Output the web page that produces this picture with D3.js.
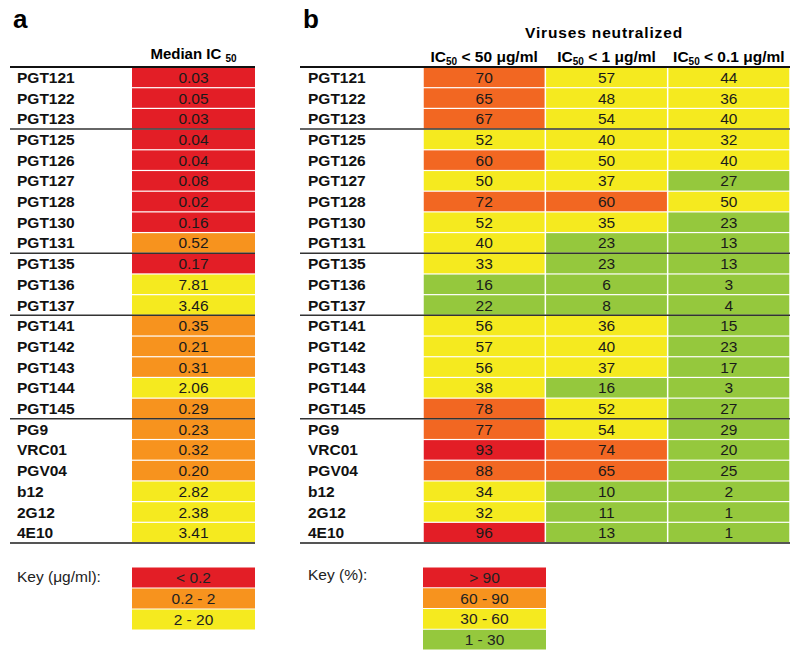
<!DOCTYPE html>
<html>
<head>
<meta charset="utf-8">
<script src="https://cdn.jsdelivr.net/npm/d3@7/dist/d3.min.js"></script>
<style>
  html, body { margin: 0; padding: 0; background: #fff; }
  text { font-family: "Liberation Sans", Arial, sans-serif; }
</style>
</head>
<body>
<svg id="chart" width="800" height="660"></svg>
<script>
// ---------- DATA ----------
const antibodies = ["PGT121","PGT122","PGT123","PGT125","PGT126","PGT127","PGT128","PGT130","PGT131",
  "PGT135","PGT136","PGT137","PGT141","PGT142","PGT143","PGT144","PGT145",
  "PG9","VRC01","PGV04","b12","2G12","4E10"];
const groupBreaks = [3, 9, 12, 17]; // row index where a new group starts
const medianIC50 = [0.03,0.05,0.03,0.04,0.04,0.08,0.02,0.16,0.52,0.17,7.81,3.46,0.35,0.21,0.31,2.06,0.29,0.23,0.32,0.20,2.82,2.38,3.41];
const neut50  = [70,65,67,52,60,50,72,52,40,33,16,22,56,57,56,38,78,77,93,88,34,32,96];
const neut1   = [57,48,54,40,50,37,60,35,23,23,6,8,36,40,37,16,52,54,74,65,10,11,13];
const neut01  = [44,36,40,32,40,27,50,23,13,13,3,4,15,23,17,3,27,29,20,25,2,1,1];
const colHeads = ["50", "1", "0.1"];
const keyA = ["< 0.2", "0.2 - 2", "2 - 20"];
const keyB = ["> 90", "60 - 90", "30 - 60", "1 - 30"];

// ---------- COLOURS ----------
const RED = "#E31E26", ORANGE_A = "#F7931E", ORANGE_B = "#F26722", YELLOW = "#F5EA1F", GREEN = "#95C83D";
const colorA = d3.scaleThreshold().domain([0.2, 2]).range([RED, ORANGE_A, YELLOW]);
const colorB = d3.scaleThreshold().domain([30, 60, 91]).range([GREEN, YELLOW, ORANGE_B, RED]);
const keyAColors = [RED, ORANGE_A, YELLOW];
const keyBColors = [RED, ORANGE_A, YELLOW, GREEN];

const svg = d3.select("#chart");
const y = d3.scaleBand().domain(d3.range(antibodies.length)).range([67, 543]);
const bw = y.bandwidth();
const fs = "15.5px";

// ---------- PANEL A ----------
const xa = d3.scaleBand().domain(["m"]).range([132, 255]);
const gA = svg.append("g");
gA.append("text").attr("x", 13).attr("y", 28).attr("font-size", "26px").attr("font-weight", "bold").text("a");
const hA = gA.append("text").attr("x", xa("m") + xa.bandwidth()/2).attr("y", 59)
  .attr("text-anchor", "middle").attr("font-size", "15px").attr("font-weight", "bold");
hA.append("tspan").text("Median IC ");
hA.append("tspan").attr("font-size", "10px").attr("dy", 3).text("50");

gA.selectAll("rect.cell").data(medianIC50).join("rect").attr("class", "cell")
  .attr("x", xa("m")).attr("width", xa.bandwidth())
  .attr("y", (d, i) => y(i) + 0.6).attr("height", bw - 1.2)
  .attr("fill", d => colorA(d));
gA.selectAll("text.val").data(medianIC50).join("text").attr("class", "val")
  .attr("x", xa("m") + xa.bandwidth()/2).attr("y", (d, i) => y(i) + bw/2).attr("dy", "0.36em")
  .attr("text-anchor", "middle").attr("font-size", fs).attr("fill", "#1a1a1a")
  .text(d => d3.format(".2f")(d));
gA.selectAll("text.lab").data(antibodies).join("text").attr("class", "lab")
  .attr("x", 17).attr("y", (d, i) => y(i) + bw/2).attr("dy", "0.36em")
  .attr("font-size", fs).attr("font-weight", "bold").attr("fill", "#111").text(d => d);

function rules(g, x0, x1) {
  g.append("line").attr("x1", x0).attr("x2", x1).attr("y1", 67).attr("y2", 67).attr("stroke", "#111").attr("stroke-width", 2);
  g.selectAll("line.sep").data(groupBreaks).join("line").attr("class", "sep")
    .attr("x1", x0).attr("x2", x1).attr("y1", d => y(d)).attr("y2", d => y(d))
    .attr("stroke", "#333").attr("stroke-width", 1.5);
  g.append("line").attr("x1", x0).attr("x2", x1).attr("y1", 543).attr("y2", 543).attr("stroke", "#555").attr("stroke-width", 2);
}
rules(gA, 10, 255);

// key A
const kyA = d3.scaleBand().domain(d3.range(keyA.length)).range([567, 630]);
gA.append("text").attr("x", 17).attr("y", 582).attr("font-size", fs).attr("fill", "#222").text("Key (μg/ml):");
gA.selectAll("rect.key").data(keyA).join("rect").attr("class", "key")
  .attr("x", 132).attr("width", 123).attr("y", (d, i) => kyA(i) + 0.5).attr("height", kyA.bandwidth() - 1)
  .attr("fill", (d, i) => keyAColors[i]);
gA.selectAll("text.key").data(keyA).join("text").attr("class", "key")
  .attr("x", 193.5).attr("y", (d, i) => kyA(i) + kyA.bandwidth()/2).attr("dy", "0.36em")
  .attr("text-anchor", "middle").attr("font-size", fs).attr("fill", "#222").text(d => d);

// ---------- PANEL B ----------
const series = [neut50, neut1, neut01];
const xb = d3.scaleBand().domain(d3.range(3)).range([423, 790]);
const gB = svg.append("g");
gB.append("text").attr("x", 303).attr("y", 28).attr("font-size", "26px").attr("font-weight", "bold").text("b");
gB.append("text").attr("x", 604).attr("y", 38).attr("text-anchor", "middle")
  .attr("font-size", fs).attr("font-weight", "bold").attr("letter-spacing", "0.85px").text("Viruses neutralized");
colHeads.forEach((c, j) => {
  const t = gB.append("text").attr("x", xb(j) + xb.bandwidth()/2).attr("y", 62)
    .attr("text-anchor", "middle").attr("font-size", fs).attr("font-weight", "bold");
  t.append("tspan").text("IC");
  t.append("tspan").attr("font-size", "10px").attr("dy", 3).text("50");
  t.append("tspan").attr("dy", -3).text(" < " + c + " μg/ml");
});

series.forEach((vals, j) => {
  const g = gB.append("g");
  g.selectAll("rect").data(vals).join("rect")
    .attr("x", xb(j) + 0.75).attr("width", xb.bandwidth() - 1.5)
    .attr("y", (d, i) => y(i) + 0.6).attr("height", bw - 1.2)
    .attr("fill", d => colorB(d));
  g.selectAll("text").data(vals).join("text")
    .attr("x", xb(j) + xb.bandwidth()/2).attr("y", (d, i) => y(i) + bw/2).attr("dy", "0.36em")
    .attr("text-anchor", "middle").attr("font-size", fs).attr("fill", "#1a1a1a").text(d => d);
});
gB.selectAll("text.lab").data(antibodies).join("text").attr("class", "lab")
  .attr("x", 308).attr("y", (d, i) => y(i) + bw/2).attr("dy", "0.36em")
  .attr("font-size", fs).attr("font-weight", "bold").attr("fill", "#111").text(d => d);
rules(gB, 300, 790);

// key B
const kyB = d3.scaleBand().domain(d3.range(keyB.length)).range([567, 650]);
gB.append("text").attr("x", 308).attr("y", 580).attr("font-size", fs).attr("fill", "#222").text("Key (%):");
gB.selectAll("rect.key").data(keyB).join("rect").attr("class", "key")
  .attr("x", 423).attr("width", 123).attr("y", (d, i) => kyB(i) + 0.5).attr("height", kyB.bandwidth() - 1)
  .attr("fill", (d, i) => keyBColors[i]);
gB.selectAll("text.key").data(keyB).join("text").attr("class", "key")
  .attr("x", 484.5).attr("y", (d, i) => kyB(i) + kyB.bandwidth()/2).attr("dy", "0.36em")
  .attr("text-anchor", "middle").attr("font-size", fs).attr("fill", "#222").text(d => d);
</script>
</body>
</html>
